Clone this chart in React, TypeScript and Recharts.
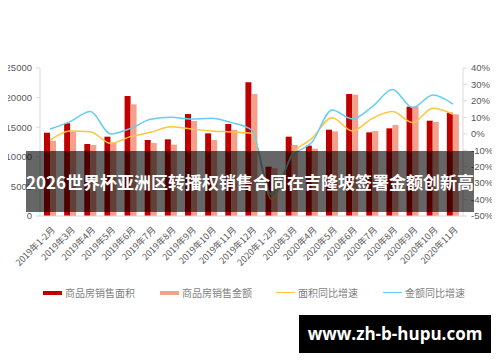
import React from 'react';
import { ComposedChart, Bar, Line, XAxis, YAxis } from 'recharts';

const months = [
  '2019年1-2月', '2019年3月', '2019年4月', '2019年5月', '2019年6月', '2019年7月',
  '2019年8月', '2019年9月', '2019年10月', '2019年11月', '2019年12月',
  '2020年1-2月', '2020年3月', '2020年4月', '2020年5月', '2020年6月', '2020年7月',
  '2020年8月', '2020年9月', '2020年10月', '2020年11月'
];

// 商品房销售面积
const areaValues = [
  14070, 15660, 12160, 13400, 20270, 12840, 12950, 17230, 13960, 15540, 22580,
  8330, 13400, 11880, 14580, 20610, 14130, 14810, 18470, 16100, 17450
];

// 商品房销售金额
const amountValues = [
  12720, 14240, 11990, 12440, 18860, 12330, 12050, 16050, 12840, 14530, 20600,
  8050, 11990, 11380, 14300, 20500, 14360, 15370, 18520, 15880, 17170
];

// 面积同比增速 (%)
const areaGrowth = [
  -3.8, 1.7, 1.3, -5.8, -1.7, 0.9, 4.3, 2.9, 1.7, 1.1, 0.3,
  -39.9, -12.9, -2.8, 9.8, 1.7, 9.4, 13.5, 6.8, 15.5, 11.9
];

// 金额同比增速 (%)
const amountGrowth = [
  2.9, 7.4, 13.5, -0.1, 3.3, 8.8, 10.0, 9.0, 9.4, 6.8, 2.3,
  -37.0, -13.9, -5.2, 14.5, 9.0, 16.5, 27.0, 15.9, 23.6, 18.1
];

const leftTicks = [0, 5000, 10000, 15000, 20000, 25000];
const rightTicks = [-50, -40, -30, -20, -10, 0, 10, 20, 30, 40];

const seriesNames = ['商品房销售面积', '商品房销售金额', '面积同比增速', '金额同比增速'];
const colors = ['#C00000', '#F4A08A', '#FFC43D', '#66CCF2'];

const title = '2026世界杯亚洲区转播权销售合同在吉隆坡签署金额创新高';
const watermark = 'www.zh-b-hupu.com';

const data = months.map((m, i) => ({
  name: m,
  area: areaValues[i],
  amount: amountValues[i],
  areaRate: areaGrowth[i],
  amountRate: amountGrowth[i]
}));

const font = '"Noto Sans CJK SC", sans-serif';
const numFont = '"Liberation Sans", Arial, sans-serif';

const MonthTick = (props: any) => {
  const { x, y, payload } = props;
  return (
    <text
      x={x + 3}
      y={y + 4}
      transform={`rotate(-45, ${x + 3}, ${y + 4})`}
      textAnchor="end"
      dominantBaseline="central"
      fontSize={9}
      fill="#595959"
      fontFamily={font}
    >
      {payload.value}
    </text>
  );
};

const App: React.FC = () => {
  const legendItems = [
    { x: 43, kind: 'bar' },
    { x: 160, kind: 'bar' },
    { x: 276, kind: 'line' },
    { x: 383, kind: 'line' }
  ];

  return (
    <div style={{ position: 'relative', width: 500, height: 362, margin: -8, background: '#fff', overflow: 'hidden' }}>
      <ComposedChart
        width={500}
        height={362}
        data={data}
        margin={{ top: 68, right: 0, left: 0, bottom: 0 }}
        barSize={6}
        barGap={0}
        barCategoryGap="20%"
      >
        <XAxis
          dataKey="name"
          interval={0}
          tick={<MonthTick />}
          tickLine={false}
          axisLine={{ stroke: '#d9d9d9' }}
          height={146}
        />
        <YAxis
          yAxisId="left"
          domain={[0, 25000]}
          ticks={leftTicks}
          width={40}
          tickSize={4}
          tickMargin={4}
          tick={{ fontSize: 9.5, fill: '#595959', fontFamily: numFont }}
          axisLine={{ stroke: '#d9d9d9' }}
          tickLine={{ stroke: '#d9d9d9' }}
        />
        <YAxis
          yAxisId="right"
          orientation="right"
          domain={[-50, 40]}
          ticks={rightTicks}
          width={37}
          tickSize={4}
          tickMargin={4}
          tickFormatter={(v) => `${v}%`}
          tick={{ fontSize: 9.5, fill: '#595959', fontFamily: numFont }}
          axisLine={{ stroke: '#d9d9d9' }}
          tickLine={{ stroke: '#d9d9d9' }}
        />
        <Bar yAxisId="left" dataKey="area" name={seriesNames[0]} fill={colors[0]} isAnimationActive={false} />
        <Bar yAxisId="left" dataKey="amount" name={seriesNames[1]} fill={colors[1]} isAnimationActive={false} />
        <Line
          yAxisId="right"
          type="monotone"
          dataKey="areaRate"
          name={seriesNames[2]}
          stroke={colors[2]}
          strokeWidth={1.5}
          dot={false}
          isAnimationActive={false}
        />
        <Line
          yAxisId="right"
          type="monotone"
          dataKey="amountRate"
          name={seriesNames[3]}
          stroke={colors[3]}
          strokeWidth={1.5}
          dot={false}
          isAnimationActive={false}
        />
      </ComposedChart>

      {/* legend */}
      {legendItems.map((item, i) => (
        <div
          key={seriesNames[i]}
          style={{
            position: 'absolute',
            left: item.x,
            top: 285,
            display: 'flex',
            alignItems: 'center',
            fontFamily: font,
            fontSize: 10,
            color: '#7f7f7f'
          }}
        >
          <span
            style={{
              display: 'inline-block',
              width: 19,
              height: item.kind === 'bar' ? 4 : 1.5,
              background: colors[i],
              marginRight: 3
            }}
          />
          {seriesNames[i]}
        </div>
      ))}

      {/* overlay band with the headline */}
      <div
        style={{
          position: 'absolute',
          left: 26,
          top: 151,
          width: 448,
          height: 61,
          background: 'rgba(0,0,0,0.6)',
          color: '#fff',
          fontFamily: font,
          fontWeight: 'bold',
          fontSize: 17,
          lineHeight: '61px',
          textAlign: 'center',
          whiteSpace: 'nowrap'
        }}
      >
        {title}
      </div>

      {/* watermark */}
      <div
        style={{
          position: 'absolute',
          left: 299,
          top: 315,
          width: 192,
          height: 38,
          background: '#000',
          color: '#fff',
          fontFamily: '"Open Sans", "DejaVu Sans", sans-serif',
          fontWeight: 'bold',
          fontSize: 17,
          lineHeight: '38px',
          textAlign: 'center'
        }}
      >
        {watermark}
      </div>
    </div>
  );
};

export default App;
